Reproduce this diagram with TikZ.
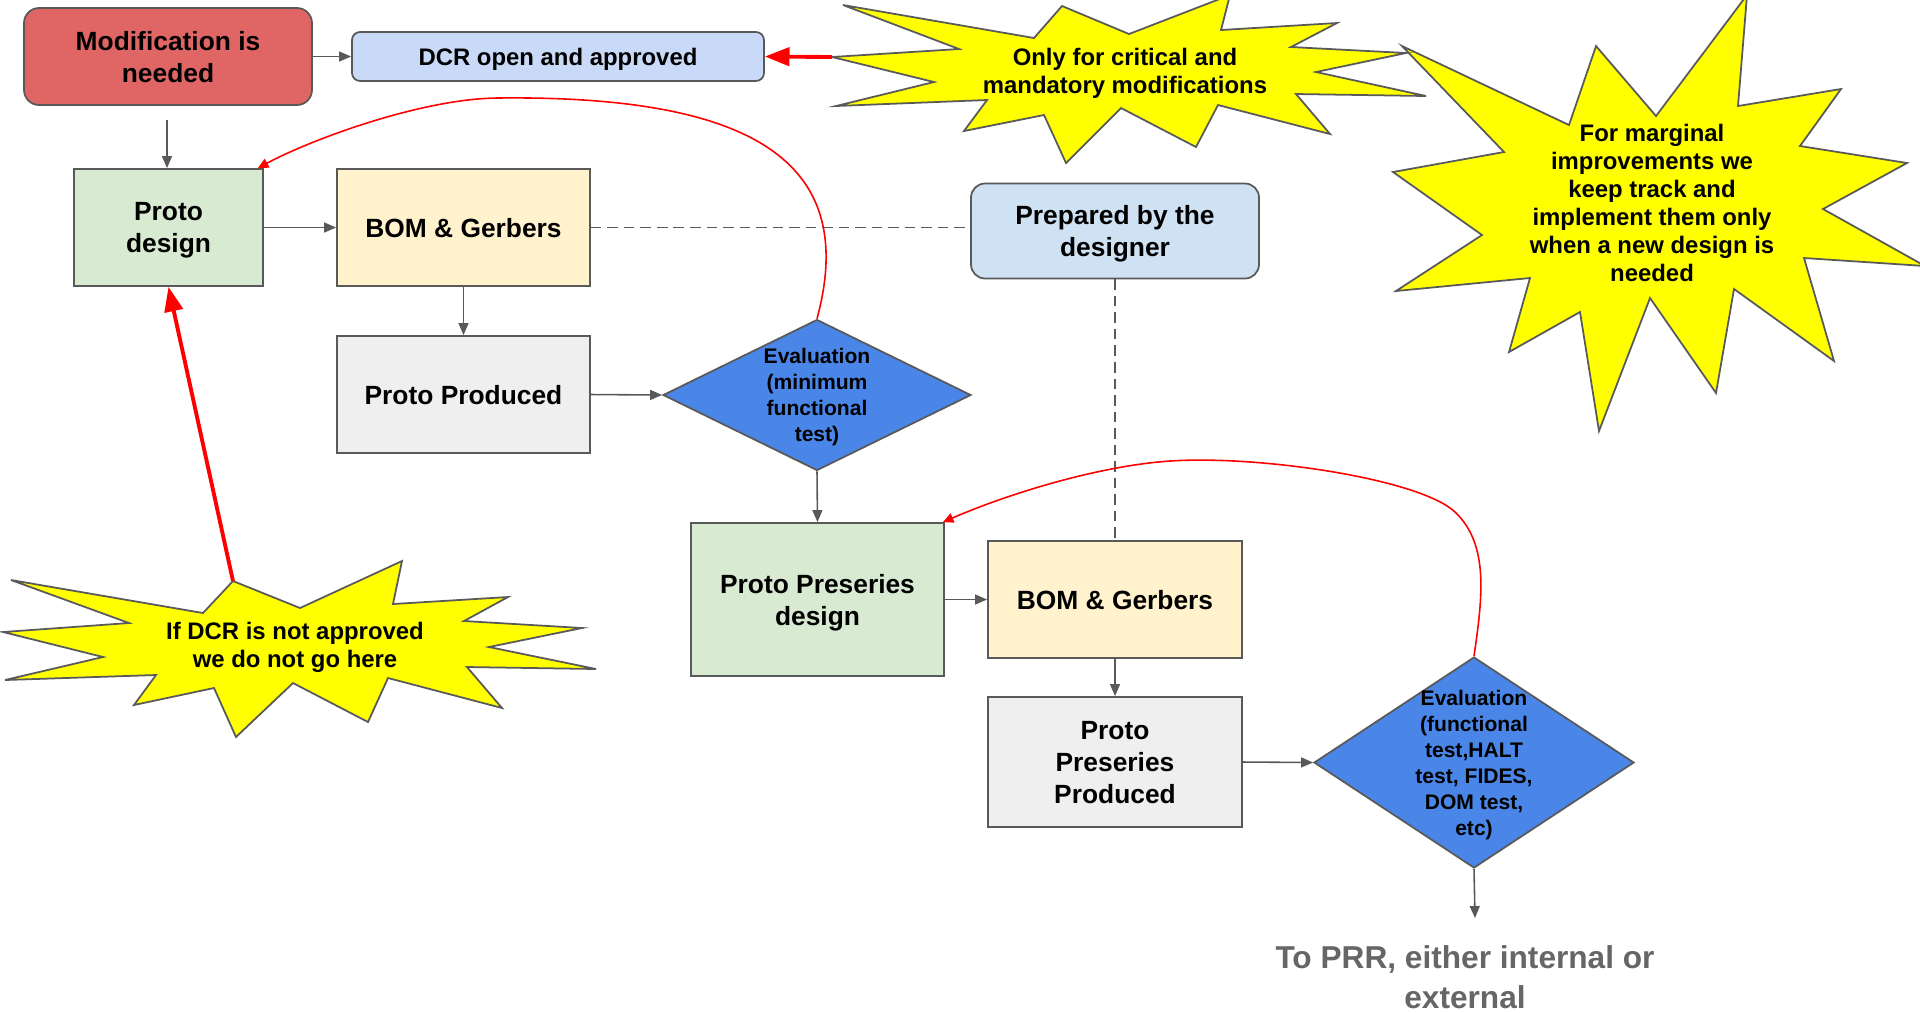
\documentclass[tikz,border=0pt]{standalone}
\usepackage{fontspec}
\setmainfont{Liberation Sans}
\usepackage{tikz}
\usetikzlibrary{arrows.meta, shapes.geometric}
\definecolor{modred}{HTML}{E06666}
\definecolor{dcrblue}{HTML}{C9DAF8}
\definecolor{protogreen}{HTML}{D9EAD3}
\definecolor{bomyellow}{HTML}{FFF2CC}
\definecolor{prodgray}{HTML}{EFEFEF}
\definecolor{prepblue}{HTML}{CFE2F3}
\definecolor{evalblue}{HTML}{4A86E8}
\definecolor{noteyellow}{HTML}{FFFF00}
\definecolor{edgegray}{HTML}{595959}
\definecolor{linkred}{HTML}{FF0000}
\definecolor{prrgray}{HTML}{666666}

\begin{document}
\begin{tikzpicture}[x=1cm,y=-1cm,
  box/.style={draw=edgegray,line width=0.5pt,align=center,inner sep=0pt,text depth=0pt,
    font=\bfseries\fontsize{7.5}{9.1}\selectfont},
  evalshape/.style={diamond,draw=edgegray,fill=evalblue,line width=0.5pt,inner sep=0pt},
  evaltext/.style={align=center,inner sep=0pt,text depth=0pt,font=\bfseries\fontsize{6}{7.4}\selectfont},
  notestar/.style={draw=edgegray,fill=noteyellow,line width=0.5pt,line join=miter},
  notetext/.style={align=center,inner sep=0pt,font=\bfseries\fontsize{6.8}{8}\selectfont},
  flow/.style={draw=edgegray,line width=0.45pt,-{Triangle[length=3.4pt,width=2.8pt]}},
  linkback/.style={draw=linkred,line width=0.45pt,-{Triangle[length=3pt,width=2.8pt]}},
  denied/.style={draw=linkred,line width=1.1pt,-{Triangle[length=7pt,width=5.2pt]}},
  helper/.style={draw=edgegray,line width=0.45pt,dash pattern=on 3pt off 1.7pt}]%
  \useasboundingbox (0,0) rectangle (19.2,10.12);
  % explosion notes
  \draw[notestar] (14.02,0.46)--(15.69,1.25)--(15.96,0.46)--(16.56,1.16)--(17.47,-0.05)--(17.38,1.06)
    --(18.41,0.89)--(18.00,1.46)--(19.07,1.63)--(18.23,2.09)--(19.25,2.66)--(18.04,2.58)--(18.34,3.61)
    --(17.34,2.89)--(17.16,3.93)--(16.50,2.98)--(15.99,4.31)--(15.80,3.12)--(15.09,3.52)--(15.30,2.78)
    --(13.96,2.91)--(14.82,2.35)--(13.93,1.72)--(15.04,1.52)--cycle;
  \coordinate (crittip) at (8.32,0.57);
  \draw[notestar] (crittip)--(9.59,0.49)--(8.43,0.05)--(10.34,0.38)--(10.62,0.06)--(11.29,0.34)
    --(12.30,-0.05)--(12.21,0.30)--(13.37,0.23)--(12.91,0.47)--(14.06,0.53)--(13.16,0.72)--(14.26,0.96)
    --(12.96,0.94)--(13.30,1.34)--(12.18,1.05)--(11.96,1.47)--(11.21,1.08)--(10.66,1.63)--(10.44,1.15)
    --(9.64,1.31)--(9.87,1.00)--(8.36,1.06)--(9.34,0.82)--cycle;
  \coordinate (nottip) at (2.33,5.81);
  \draw[notestar] (0.11,5.80)--(2.03,6.13)--(nottip)--(3.00,6.08)--(4.02,5.61)--(3.93,6.04)--(5.08,5.97)
    --(4.64,6.21)--(5.82,6.28)--(4.89,6.47)--(5.96,6.69)--(4.67,6.67)--(5.02,7.08)--(3.88,6.78)
    --(3.68,7.22)--(2.93,6.83)--(2.36,7.37)--(2.14,6.88)--(1.34,7.05)--(1.56,6.75)--(0.05,6.80)
    --(1.03,6.57)--(0.03,6.32)--(1.29,6.23)--cycle;
  \node[notetext] (critnote) at (11.25,0.73) {Only for critical and\\mandatory modifications};
  \node[notetext] (margnote) at (16.52,2.03) {For marginal\\improvements we\\keep track and\\implement them only\\when a new design is\\needed};
  \node[notetext] (notnote) at (2.95,6.47) {If DCR is not approved\\we do not go here};
  % first loop
  \node[box,fill=modred,rounded corners=4.3pt,minimum width=2.88cm,minimum height=0.97cm] (mod) at (1.68,0.565) {Modification is\\needed};
  \node[box,fill=dcrblue,rounded corners=2.3pt,minimum width=4.12cm,minimum height=0.49cm,
    font=\bfseries\fontsize{6.8}{8}\selectfont] (dcr) at (5.58,0.565) {DCR open and approved};
  \node[box,fill=protogreen,minimum width=1.89cm,minimum height=1.17cm] (design) at (1.685,2.275) {Proto\\design};
  \node[box,fill=bomyellow,minimum width=2.53cm,minimum height=1.17cm] (bom) at (4.635,2.275) {BOM \& Gerbers};
  \node[box,fill=prepblue,rounded corners=4pt,minimum width=2.88cm,minimum height=0.95cm] (prepared) at (11.15,2.31) {Prepared by the\\designer};
  \node[box,fill=prodgray,minimum width=2.53cm,minimum height=1.17cm] (produced) at (4.635,3.945) {Proto Produced};
  \node[evalshape,minimum width=3.08cm,minimum height=1.51cm] (evalmin) at (8.17,3.95) {};
  \node[evaltext] (evalmintext) at (evalmin) {Evaluation\\(minimum\\functional\\test)};
  % second loop
  \node[box,fill=protogreen,minimum width=2.53cm,minimum height=1.53cm] (ppdesign) at (8.175,5.995) {Proto Preseries\\design};
  \node[box,fill=bomyellow,minimum width=2.54cm,minimum height=1.17cm] (ppbom) at (11.15,5.995) {BOM \& Gerbers};
  \node[box,fill=prodgray,minimum width=2.54cm,minimum height=1.30cm] (ppproduced) at (11.15,7.62) {Proto\\Preseries\\Produced};
  \node[evalshape,minimum width=3.20cm,minimum height=2.11cm] (evalfull) at (14.74,7.625) {};
  \node[evaltext] (evalfulltext) at (evalfull) {Evaluation\\(functional\\test,HALT\\test, FIDES,\\DOM test,\\etc)};
  \node[align=center,inner sep=0pt,text=prrgray,font=\bfseries\fontsize{9}{11.4}\selectfont] (prr) at (14.65,9.77) {To PRR, either internal or\\external};
  \coordinate (modgap) at (1.67,1.20);
  \coordinate (prrgap) at (14.75,9.18);
  % connectors
  \draw[flow] (mod.east) -- (dcr.west);
  \draw[flow] (modgap) -- (modgap |- design.north);
  \draw[flow] (design.east) -- (bom.west);
  \draw[flow] (bom.south) -- (produced.north);
  \draw[flow] (produced.east) -- (evalmin.west);
  \draw[flow] (evalmin.south) -- (ppdesign.north);
  \draw[flow] (ppdesign.east) -- (ppbom.west);
  \draw[flow] (ppbom.south) -- (ppproduced.north);
  \draw[flow] (ppproduced.east) -- (evalfull.west);
  \draw[flow] (evalfull.south) -- (prrgap);
  \draw[helper] (bom.east) -- (prepared.west |- bom.east);
  \draw[helper] (prepared.south) -- (ppbom.north);
  \draw[denied] (crittip) -- (dcr.east);
  \draw[denied] (nottip) -- (design.south);
  \draw[linkback] (evalmin.north) .. controls (8.6,1.6) and (7.5,0.95) .. (4.97,0.98)
    .. controls (4.2,0.99) and (3.1,1.4) .. ([xshift=-0.06cm]design.north east);
  \draw[linkback] (evalfull.north) .. controls (14.82,6.0) and (14.9,5.45) .. (14.55,5.12)
    .. controls (14.2,4.79) and (12.6,4.55) .. (11.7,4.61)
    .. controls (11.0,4.657) and (10.1,4.93) .. ([xshift=-0.02cm]ppdesign.north east);
\end{tikzpicture}
\end{document}
